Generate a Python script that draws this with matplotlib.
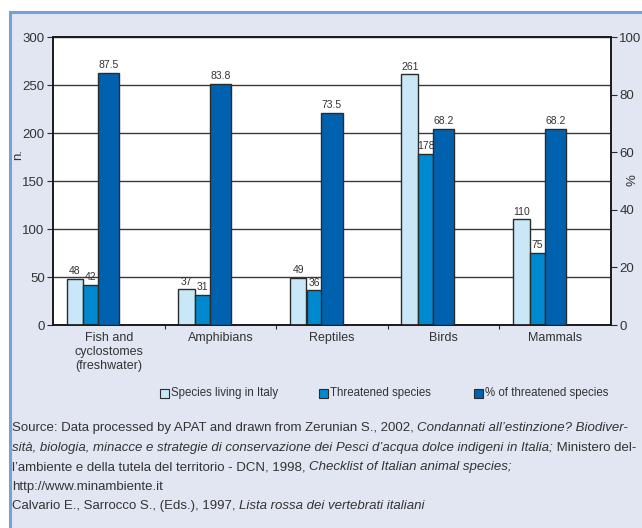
import matplotlib
matplotlib.use('Agg')
import numpy as np
import matplotlib.pyplot as plt
from matplotlib.patches import Rectangle
from matplotlib.lines import Line2D

categories = ['Fish and\ncyclostomes\n(freshwater)', 'Amphibians', 'Reptiles', 'Birds', 'Mammals']
species_living = [48, 37, 49, 261, 110]
threatened = [42, 31, 36, 178, 75]
pct_threatened = [87.5, 83.8, 73.5, 68.2, 68.2]
left_ticks = [0, 50, 100, 150, 200, 250, 300]
right_ticks = [0, 20, 40, 60, 80, 100]
legend_labels = ['Species living in Italy', 'Threatened species', '% of threatened species']

source_lines = [
    [('Source: Data processed by APAT and drawn from Zerunian S., 2002, ', 'normal'),
     ('Condannati all\u2019estinzione? Biodiver-', 'italic')],
    [('sit\u00e0, biologia, minacce e strategie di conservazione dei Pesci d\u2019acqua dolce indigeni in Italia;', 'italic'),
     (' Ministero del-', 'normal')],
    [('l\u2019ambiente e della tutela del territorio - DCN, 1998, ', 'normal'),
     ('Checklist of Italian animal species;', 'italic')],
    [('http://www.minambiente.it', 'normal')],
    [('Calvario E., Sarrocco S., (Eds.), 1997, ', 'normal'),
     ('Lista rossa dei vertebrati italiani', 'italic')],
]

BG = '#e1e6f2'
BORDER = '#74a3d3'
LIGHT = '#c9e8f7'
MID = '#0089cf'
DARK = '#0062ae'
EDGE = '#2b2b2b'
TXT = '#333333'

plt.rcParams['font.family'] = ['Liberation Sans', 'DejaVu Sans']

W, H = 642, 528
fig = plt.figure(figsize=(W / 100, H / 100), dpi=100)
fig.patch.set_facecolor('white')

# panel background with blue border on top and left
fig.patches.append(Rectangle((10 / W, 0), 1, 1 - 12 / H, transform=fig.transFigure,
                             facecolor=BG, edgecolor='none', zorder=-2))
fig.add_artist(Line2D([10 / W, 10 / W], [0, 1 - 12 / H], color=BORDER, lw=2.2,
                      transform=fig.transFigure, zorder=-1))
fig.add_artist(Line2D([10 / W, 1], [1 - 12 / H, 1 - 12 / H], color=BORDER, lw=2.2,
                      transform=fig.transFigure, zorder=-1))

ax = fig.add_axes([53 / W, 203 / H, 558 / W, 288 / H])
ax.set_facecolor('white')
x = np.arange(len(categories))

ax.bar(x - 0.303, species_living, width=0.149, color=LIGHT, edgecolor=EDGE, lw=1, zorder=3)
ax.bar(x - 0.161, threatened, width=0.134, color=MID, edgecolor=EDGE, lw=1, zorder=3)
for xi, v in zip(x, species_living):
    ax.text(xi - 0.303, v + 3, str(v), ha='center', va='bottom', fontsize=7.5, color=TXT)
for xi, v in zip(x, threatened):
    ax.text(xi - 0.161, v + 3, str(v), ha='center', va='bottom', fontsize=7.5, color=TXT)

ax.set_xlim(-0.5, len(categories) - 0.5)
ax.set_ylim(0, 300)
ax.set_yticks(left_ticks)
ax.yaxis.grid(True, color='#3a3a3a', lw=1)
ax.set_axisbelow(True)

ax.set_xticks(np.arange(0.5, len(categories) - 0.5, 1))
ax.set_xticklabels([])
ax.set_xticks(x, minor=True)
ax.set_xticklabels(categories, minor=True, fontsize=9, color=TXT, linespacing=1.25)
ax.tick_params(axis='x', which='minor', length=0, pad=5)
ax.tick_params(axis='x', which='major', length=3, color=EDGE)
ax.tick_params(axis='y', length=4, color=EDGE, labelsize=9.5, labelcolor=TXT, pad=2)

ax2 = ax.twinx()
ax2.bar(x, pct_threatened, width=0.19, color=DARK, edgecolor=EDGE, lw=1, zorder=3)
for xi, v in zip(x, pct_threatened):
    ax2.text(xi, v + 1, f'{v}', ha='center', va='bottom', fontsize=7.5, color=TXT)
ax2.set_ylim(0, 100)
ax2.set_yticks(right_ticks)
ax2.tick_params(axis='y', length=4, color=EDGE, labelsize=9.5, labelcolor=TXT, pad=2)

for a in (ax, ax2):
    for s in a.spines.values():
        s.set_color('#1a1a1a')
        s.set_linewidth(1.2)

fig.text(18 / W, 1 - 155 / H, 'n.', rotation=90, ha='center', va='center', fontsize=9.5, color=TXT)
fig.text(633 / W, 1 - 180 / H, '%', rotation=90, ha='center', va='center', fontsize=9.5, color=TXT)

# legend drawn by hand: small squares followed by their labels
legend_x = [160, 319, 474]
for lx, c, lab in zip(legend_x, (LIGHT, MID, DARK), legend_labels):
    fig.patches.append(Rectangle((lx / W, 1 - 397.5 / H), 9 / W, 9 / H, transform=fig.transFigure,
                                 facecolor=c, edgecolor=EDGE, lw=0.8))
    fig.text((lx + 11) / W, 1 - 393 / H, lab, fontsize=8.3, va='center', color=TXT)

# source text, mixing upright and italic pieces on each line;
# font size chosen so the widest line ends at the right edge like the original
renderer = fig.canvas.get_renderer()


def place_line(y, pieces, size):
    xpos = 12 / W
    made = []
    for txt, style in pieces:
        t = fig.text(xpos, 1 - y / H, txt, fontsize=size, style=style, va='center', color=TXT)
        xpos += t.get_window_extent(renderer).width / fig.bbox.width
        made.append(t)
    return made, xpos


widest = 0
for pieces in source_lines:
    probe, end = place_line(428, pieces, 10)
    for t in probe:
        t.remove()
    widest = max(widest, end - 12 / W)
src_size = 10 * (639 / W - 12 / W) / widest

line_y = [428, 448, 467, 487, 506]
for y, pieces in zip(line_y, source_lines):
    place_line(y, pieces, src_size)

fig.savefig('out.png', dpi=100)
